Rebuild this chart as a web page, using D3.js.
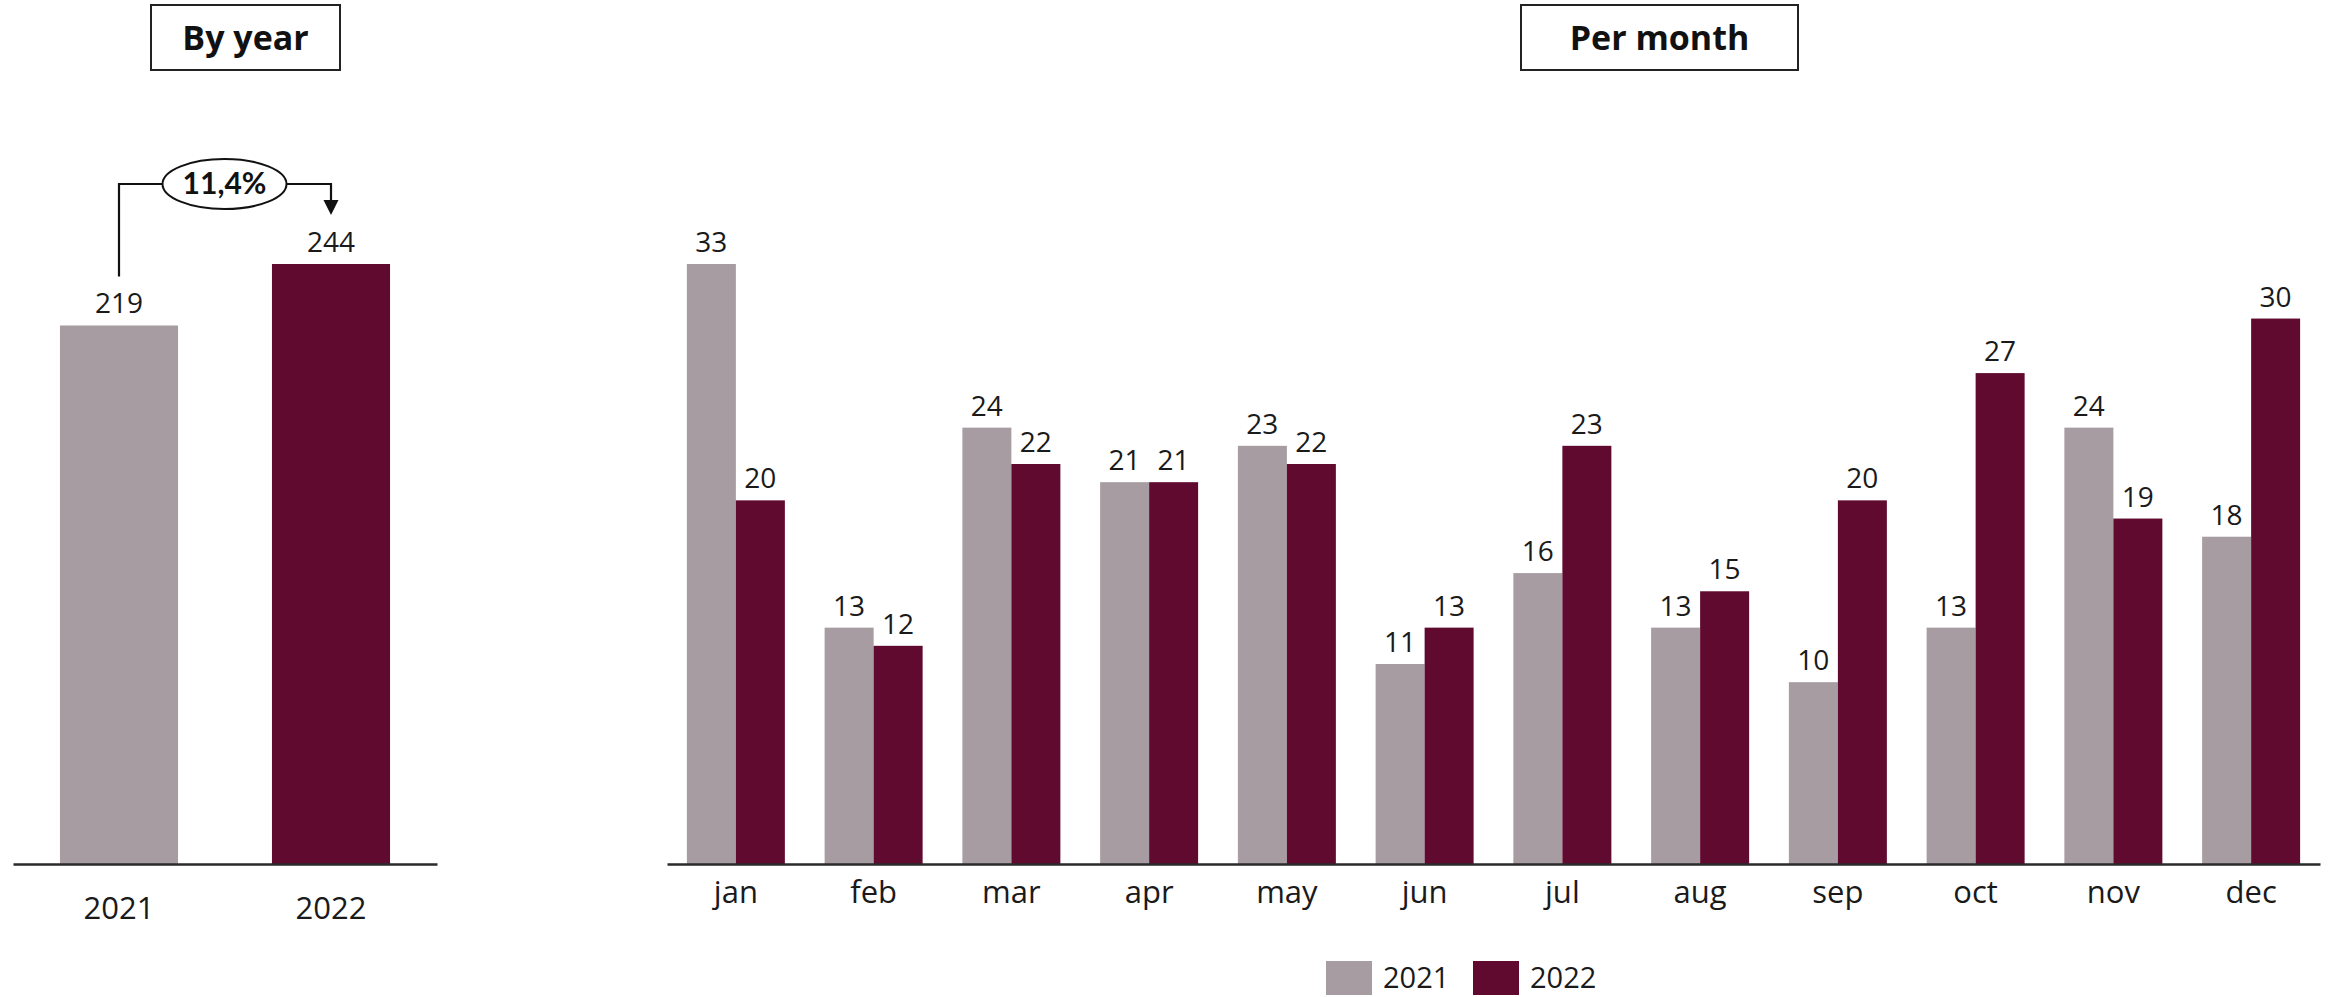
<!DOCTYPE html>
<html>
<head>
<meta charset="utf-8">
<script src="https://cdn.jsdelivr.net/npm/d3@7"></script>
<style>
  html, body { margin: 0; padding: 0; background: #fff; }
  svg { display: block; }
  .lbl { font-family: "Open Sans", sans-serif; fill: #1a1a1a; }
  .ttl { font-family: "Open Sans", sans-serif; font-weight: 700; fill: #111; }
</style>
</head>
<body>
<svg id="chart" width="2340" height="997"></svg>
<script>
// Yearly totals
const years = ["2021", "2022"];
const yearTotals = [219, 244];
const changeLabel = "11,4%";

// Monthly counts
const months = ["jan", "feb", "mar", "apr", "may", "jun", "jul", "aug", "sep", "oct", "nov", "dec"];
const values2021 = [33, 13, 24, 21, 23, 11, 16, 13, 10, 13, 24, 18];
const values2022 = [20, 12, 22, 21, 22, 13, 23, 15, 20, 27, 19, 30];

const colors = { "2021": "#a69ca1", "2022": "#600a30" };

const svg = d3.select("#chart");
const baseY = 864;
const topY = 264;

// ---------- By year panel ----------
const xYear = d3.scaleBand().domain(years).range([13, 437]).paddingInner(0.443).paddingOuter(0.2215);
const yYear = d3.scaleLinear().domain([0, d3.max(yearTotals)]).range([baseY, topY]);

const gYear = svg.append("g");
gYear.selectAll("rect").data(years).join("rect")
  .attr("x", d => xYear(d))
  .attr("y", (d, i) => yYear(yearTotals[i]))
  .attr("width", xYear.bandwidth())
  .attr("height", (d, i) => baseY - yYear(yearTotals[i]))
  .attr("fill", d => colors[d]);

gYear.selectAll("text.val").data(years).join("text")
  .attr("class", "lbl val")
  .attr("x", d => xYear(d) + xYear.bandwidth() / 2)
  .attr("y", (d, i) => yYear(yearTotals[i]) - 12)
  .attr("text-anchor", "middle")
  .attr("font-size", 28)
  .text((d, i) => yearTotals[i]);

const axYear = d3.axisBottom(xYear).tickSize(0).tickPadding(0);
gYear.append("g").attr("transform", `translate(0,${baseY})`).call(axYear)
  .call(g => g.select(".domain").attr("stroke", "#2a2a2a").attr("stroke-width", 2.5))
  .call(g => g.selectAll("text").attr("class", "lbl").attr("font-size", 31).attr("dy", null).attr("y", 55));

// change annotation: elbow arrow from the 2021 bar to the 2022 bar
const x1 = xYear("2021") + xYear.bandwidth() / 2;
const x2 = xYear("2022") + xYear.bandwidth() / 2;
const y1 = yYear(yearTotals[0]) - 49;
const y2 = yYear(yearTotals[1]) - 49;
const levelY = 184;
const ecx = (x1 + x2) / 2 - 0.5, erx = 62, ery = 25;
gYear.append("path")
  .attr("d", `M${x1},${y1}V${levelY}H${ecx - erx}M${ecx + erx},${levelY}H${x2}V${y2 - 15}`)
  .attr("fill", "none").attr("stroke", "#111").attr("stroke-width", 2.2);
gYear.append("path")
  .attr("d", `M${x2 - 7.5},${y2 - 15}L${x2 + 7.5},${y2 - 15}L${x2},${y2}Z`)
  .attr("fill", "#111");
gYear.append("ellipse")
  .attr("cx", ecx).attr("cy", levelY).attr("rx", erx).attr("ry", ery)
  .attr("fill", "#fff").attr("stroke", "#111").attr("stroke-width", 2);
gYear.append("text")
  .attr("x", ecx).attr("y", levelY + 10)
  .attr("text-anchor", "middle")
  .attr("font-family", "Lato, sans-serif").attr("font-weight", 700).attr("font-size", 30)
  .attr("fill", "#111")
  .text(changeLabel);

// ---------- Per month panel ----------
const xMonth = d3.scaleBand().domain(months).range([667, 2320]).paddingInner(0.2886).paddingOuter(0.1443);
const xSub = d3.scaleBand().domain(years).range([0, xMonth.bandwidth()]);
const yMonth = d3.scaleLinear().domain([0, d3.max(values2021.concat(values2022))]).range([baseY, topY]);

const rows = months.map((m, i) => ({ month: m, vals: [{ key: "2021", v: values2021[i] }, { key: "2022", v: values2022[i] }] }));

const gMonth = svg.append("g");
const grp = gMonth.selectAll("g.grp").data(rows).join("g")
  .attr("class", "grp")
  .attr("transform", d => `translate(${xMonth(d.month)},0)`);

grp.selectAll("rect").data(d => d.vals).join("rect")
  .attr("x", d => xSub(d.key))
  .attr("y", d => yMonth(d.v))
  .attr("width", xSub.bandwidth())
  .attr("height", d => baseY - yMonth(d.v))
  .attr("fill", d => colors[d.key]);

grp.selectAll("text").data(d => d.vals).join("text")
  .attr("class", "lbl")
  .attr("x", d => xSub(d.key) + xSub.bandwidth() / 2)
  .attr("y", d => yMonth(d.v) - 12)
  .attr("text-anchor", "middle")
  .attr("font-size", 28)
  .text(d => d.v);

const axMonth = d3.axisBottom(xMonth).tickSize(0).tickPadding(0);
gMonth.append("g").attr("transform", `translate(0,${baseY})`).call(axMonth)
  .call(g => g.select(".domain").attr("stroke", "#2a2a2a").attr("stroke-width", 2.5))
  .call(g => g.selectAll("text").attr("class", "lbl").attr("font-size", 31).attr("dy", null).attr("y", 39));

// ---------- Titles ----------
function titleBox(x, w, text) {
  svg.append("rect").attr("x", x).attr("y", 5).attr("width", w).attr("height", 65)
    .attr("fill", "#fff").attr("stroke", "#222").attr("stroke-width", 2);
  svg.append("text").attr("class", "ttl")
    .attr("x", x + w / 2).attr("y", 50).attr("text-anchor", "middle")
    .attr("font-size", 34).text(text);
}
titleBox(151, 189, "By year");
titleBox(1521, 277, "Per month");

// ---------- Legend ----------
const legendX = [1326, 1473];
const lg = svg.append("g").selectAll("g").data(years).join("g")
  .attr("transform", (d, i) => `translate(${legendX[i]},961)`);
lg.append("rect").attr("width", 46).attr("height", 34).attr("fill", d => colors[d]);
lg.append("text").attr("class", "lbl").attr("x", 57).attr("y", 27).attr("font-size", 29).text(d => d);
</script>
</body>
</html>
